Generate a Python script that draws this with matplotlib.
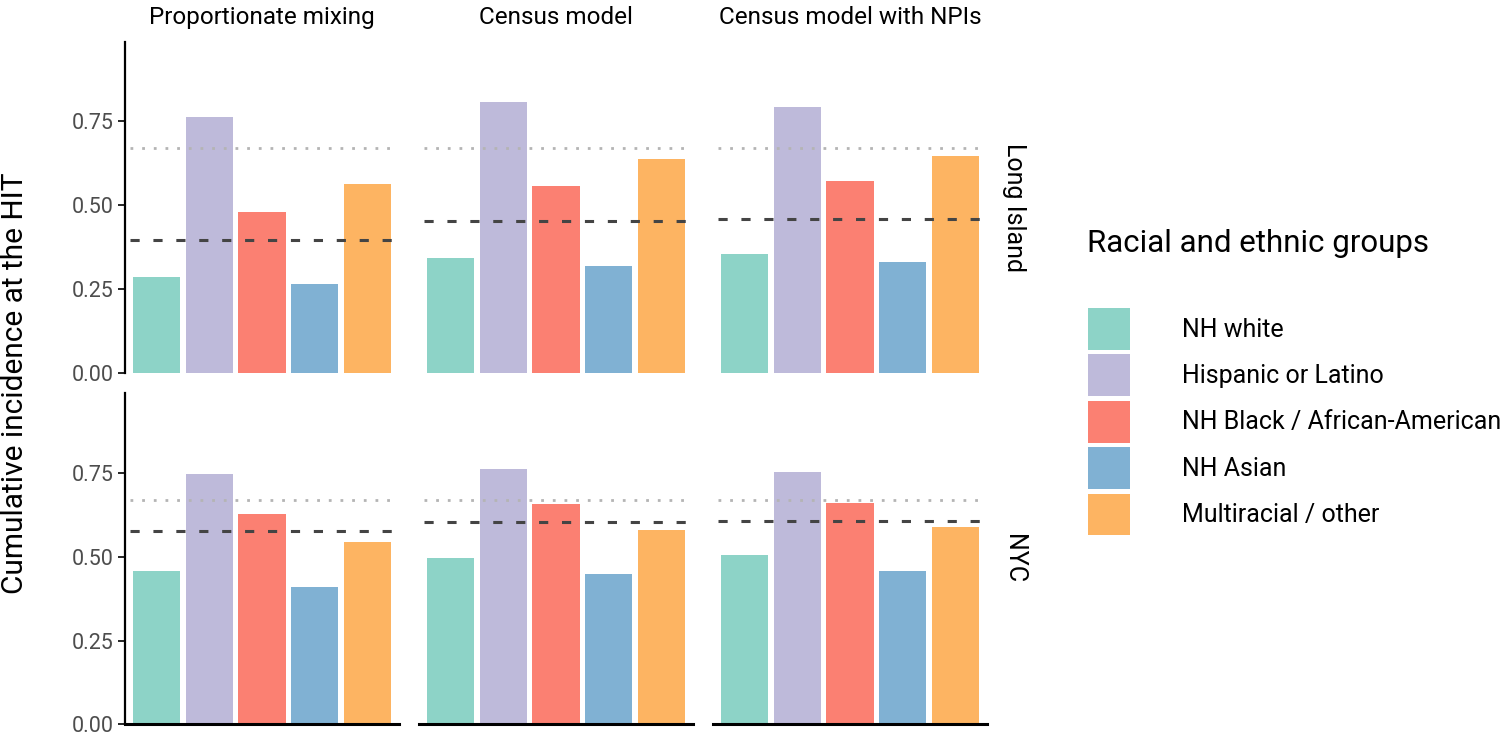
import matplotlib
matplotlib.use("Agg")
import matplotlib.pyplot as plt
from matplotlib.patches import Patch

plt.rcParams['font.family'] = ['Roboto', 'DejaVu Sans']

# ---- data ----
groups = ["NH white", "Hispanic or Latino", "NH Black / African-American",
          "NH Asian", "Multiracial / other"]
colors = ["#8DD3C7", "#BEBADA", "#FB8072", "#80B1D3", "#FDB462"]
models = ["Proportionate mixing", "Census model", "Census model with NPIs"]
regions = ["Long Island", "NYC"]

# cumulative incidence at the HIT, per region -> per model
long_island_prop = [0.285, 0.764, 0.480, 0.265, 0.563]
long_island_census = [0.342, 0.807, 0.556, 0.317, 0.637]
long_island_npi = [0.354, 0.793, 0.571, 0.329, 0.646]
nyc_prop = [0.459, 0.747, 0.629, 0.410, 0.543]
nyc_census = [0.495, 0.763, 0.659, 0.448, 0.580]
nyc_npi = [0.505, 0.752, 0.661, 0.457, 0.588]

# overall incidence (dashed) and herd immunity threshold (dotted)
long_island_overall = [0.397, 0.453, 0.459]
nyc_overall = [0.576, 0.605, 0.608]
hit = 0.67

values = [[long_island_prop, long_island_census, long_island_npi],
          [nyc_prop, nyc_census, nyc_npi]]
overall = [long_island_overall, nyc_overall]

W, H = 1500, 732
fig = plt.figure(figsize=(W / 100, H / 100), dpi=100)

# panel geometry in pixels
col_left = [125, 419, 713]
col_w = 274
row_top = [41.7, 393.3]
row_h = 331

x = list(range(1, len(groups) + 1))
for r in range(2):
    for c in range(3):
        ax = fig.add_axes([col_left[c] / W, 1 - (row_top[r] + row_h) / H,
                           col_w / W, row_h / H])
        ax.bar(x, values[r][c], width=0.9, color=colors)
        ax.plot([0.5, 5.5], [hit, hit], color="#B4B4B4", lw=2,
                dashes=(1, 3.2), zorder=3)
        ax.plot([0.5, 5.5], [overall[r][c]] * 2, color="#444444", lw=2.2,
                dashes=(3, 4.5), zorder=3)
        ax.set_xlim(0.4, 5.6)
        ax.set_ylim(0, 0.988)
        ax.set_xticks([])
        for s in ["top", "right"]:
            ax.spines[s].set_visible(False)
        ax.spines["bottom"].set_visible(r == 1)
        ax.spines["bottom"].set_linewidth(2.2)
        ax.spines["left"].set_linewidth(1.6)
        if c == 0:
            ax.set_yticks([0, 0.25, 0.5, 0.75])
            ax.set_yticklabels(["0.00", "0.25", "0.50", "0.75"])
            ax.tick_params(axis="y", length=5, width=1.2, labelsize=15.5,
                           labelcolor="#4D4D4D", pad=3)
        else:
            ax.spines["left"].set_visible(False)
            ax.set_yticks([])
        if r == 0:
            ax.set_title(models[c], fontsize=17.5, pad=13)
        if c == 2:
            ax.text(1.1, 0.5, regions[r], transform=ax.transAxes,
                    rotation=-90, fontsize=18, ha="center", va="center")

fig.text(15 / W, 1 - 383 / H, "Cumulative incidence at the HIT",
         rotation=90, fontsize=21.5, ha="center", va="center")

# legend
fig.text(1087 / W, 1 - 243 / H, "Racial and ethnic groups", fontsize=22.5,
         ha="left", va="center")
handles = [Patch(facecolor=col, edgecolor="none") for col in colors]
fig.legend(handles, groups, loc="upper left",
           bbox_to_anchor=(1088 / W, 1 - 308 / H), frameon=False,
           fontsize=18, handlelength=1.68, handleheight=2.2,
           handletextpad=2.1, labelspacing=0.18, borderpad=0,
           borderaxespad=0)

fig.savefig("out.png", dpi=100)
